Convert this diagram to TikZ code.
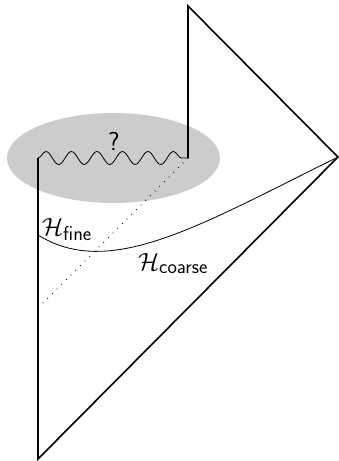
\documentclass[tikz,border=0pt]{standalone}
\usetikzlibrary{decorations.pathmorphing}
\begin{document}
\begin{tikzpicture}[x=1pt,y=-1pt,
  bound/.style={line width=1.6pt, line join=miter},
  sing/.style={line width=0.8pt, decorate, decoration={snake, segment length=25.5pt, amplitude=6.5pt}},
  slice/.style={line width=0.8pt},
  horizon/.style={line width=0.8pt, dash pattern=on 0.8pt off 5.8pt},
  blob/.style={fill=black!20},
  lab/.style={inner sep=0pt, anchor=base west}]
\useasboundingbox (0,0) rectangle (339,461);
\coordinate (B) at (38,459);
\coordinate (L) at (38,158);
\coordinate (R) at (188,158);
\coordinate (T) at (188,6);
\coordinate (P) at (338,157);
\coordinate (D) at (38,308);
\coordinate (C) at (38,235);
\fill[blob] (113.5,158) ellipse [x radius=106.5, y radius=45];
\node (q) at (114,141) {\fontsize{26}{30}\selectfont\sffamily ?};
\draw[horizon] (R) -- (D);
\draw[bound] (L) -- (B) -- (P) -- (T) -- (R);
\draw[sing] (L) -- (R);
\draw[slice] (C) .. controls (110,280) and (200,225) .. (P);
\node[lab] (hf) at (42,235) {\fontsize{25}{30}\selectfont$\mathcal{H}_{\mbox{\fontsize{20}{24}\selectfont\sffamily fine}}$};
\node[lab] (hc) at (138,270) {\fontsize{25}{30}\selectfont$\mathcal{H}_{\mbox{\fontsize{20}{24}\selectfont\sffamily coarse}}$};
\end{tikzpicture}
\end{document}
